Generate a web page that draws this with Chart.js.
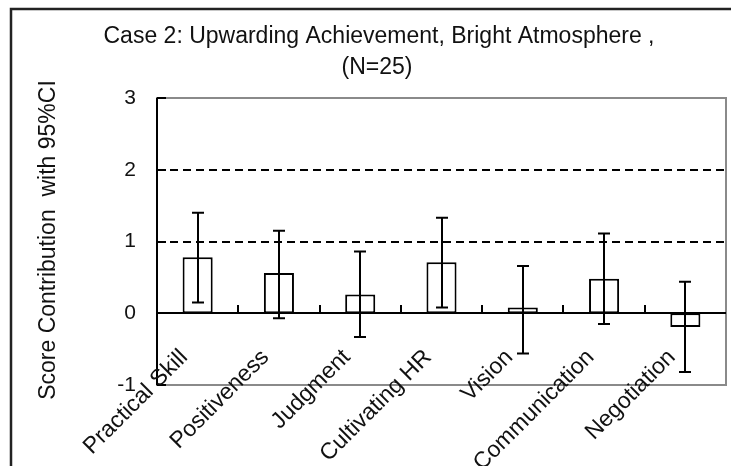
<!DOCTYPE html>
<html>
<head>
<meta charset="utf-8">
<script src="https://cdn.jsdelivr.net/npm/chart.js@4/dist/chart.umd.min.js"></script>
<style>
  html, body { margin: 0; padding: 0; background: #ffffff; }
  #wrap { width: 731px; height: 466px; position: relative; }
</style>
</head>
<body>
<div id="wrap"><canvas id="c" width="731" height="466"></canvas></div>
<script>
// Competency categories and their score contributions with 95% confidence limits
const categories = ['Practical Skill', 'Positiveness', 'Judgment', 'Cultivating HR', 'Vision', 'Communication', 'Negotiation'];
const means   = [0.78, 0.56, 0.26, 0.71, 0.08, 0.48, -0.19];
const ciLower = [0.15, -0.07, -0.33, 0.08, -0.56, -0.15, -0.82];
const ciUpper = [1.40, 1.15, 0.86, 1.33, 0.66, 1.11, 0.44];
const yTickValues = [-1, 0, 1, 2, 3];
const dashedLevels = [1, 2];
const titleLines = ['Case 2: Upwarding Achievement, Bright Atmosphere ,', '(N=25)'];
const yAxisTitle = 'Score Contribution  with 95%CI';

const FONT = '"Liberation Sans", Arial, sans-serif';
const INK = '#111111';

// Frame, titles, reference lines, error bars, slanted category labels
const decor = {
  id: 'decor',
  beforeDraw(chart) {
    const ctx = chart.ctx;
    ctx.save();
    // outer frame (extends past the canvas on the right and bottom)
    ctx.strokeStyle = '#222222';
    ctx.lineWidth = 2.5;
    ctx.beginPath();
    ctx.moveTo(11, 470);
    ctx.lineTo(11, 9);
    ctx.lineTo(740, 9);
    ctx.stroke();
    // chart title
    ctx.fillStyle = INK;
    ctx.font = '23px ' + FONT;
    ctx.textAlign = 'center';
    ctx.textBaseline = 'middle';
    ctx.fillText(titleLines[0], 379, 37);
    ctx.fillText(titleLines[1], 377, 68);
    // y axis title
    ctx.translate(49, 240);
    ctx.rotate(-Math.PI / 2);
    ctx.fillText(yAxisTitle, 0, 0);
    ctx.restore();
  },
  beforeDatasetsDraw(chart) {
    const ctx = chart.ctx;
    const a = chart.chartArea;
    const y = chart.scales.y;
    ctx.save();
    // plot frame
    ctx.strokeStyle = '#8a8a8a';
    ctx.lineWidth = 2;
    ctx.strokeRect(a.left, a.top, a.right - a.left, a.bottom - a.top);
    // dashed reference levels
    ctx.strokeStyle = '#000000';
    ctx.lineWidth = 2;
    ctx.setLineDash([8, 5]);
    dashedLevels.forEach(v => {
      const py = Math.round(y.getPixelForValue(v));
      ctx.beginPath();
      ctx.moveTo(a.left, py);
      ctx.lineTo(a.right, py);
      ctx.stroke();
    });
    ctx.restore();
  },
  afterDatasetsDraw(chart) {
    const ctx = chart.ctx;
    const a = chart.chartArea;
    const x = chart.scales.x;
    const y = chart.scales.y;
    const y0 = Math.round(y.getPixelForValue(0));
    ctx.save();
    ctx.strokeStyle = '#000000';
    ctx.lineWidth = 2;
    // zero line
    ctx.beginPath();
    ctx.moveTo(a.left, y0);
    ctx.lineTo(a.right, y0);
    ctx.stroke();
    // left axis
    ctx.beginPath();
    ctx.moveTo(a.left, a.top);
    ctx.lineTo(a.left, a.bottom);
    ctx.stroke();
    // inner y tick marks
    yTickValues.forEach(v => {
      const py = Math.round(y.getPixelForValue(v));
      ctx.beginPath();
      ctx.moveTo(a.left, py);
      ctx.lineTo(a.left + 9, py);
      ctx.stroke();
    });
    // category boundary ticks on the zero line
    const step = x.getPixelForValue(1) - x.getPixelForValue(0);
    for (let i = 1; i < categories.length; i++) {
      const px = Math.round(x.getPixelForValue(i) - step / 2);
      ctx.beginPath();
      ctx.moveTo(px, y0);
      ctx.lineTo(px, y0 - 8);
      ctx.stroke();
    }
    // 95% CI error bars
    const meta = chart.getDatasetMeta(0);
    meta.data.forEach((bar, i) => {
      const cx = Math.round(bar.x);
      const top = y.getPixelForValue(ciUpper[i]);
      const bot = y.getPixelForValue(ciLower[i]);
      ctx.beginPath();
      ctx.moveTo(cx, top);
      ctx.lineTo(cx, bot);
      ctx.moveTo(cx - 6, top);
      ctx.lineTo(cx + 6, top);
      ctx.moveTo(cx - 6, bot);
      ctx.lineTo(cx + 6, bot);
      ctx.stroke();
    });
    ctx.restore();
  },
  afterDraw(chart) {
    // slanted category labels, right end anchored just under each category centre
    const ctx = chart.ctx;
    const x = chart.scales.x;
    const y = chart.scales.y;
    const base = y.getPixelForValue(0) + 45;
    ctx.save();
    ctx.fillStyle = INK;
    ctx.font = '23px ' + FONT;
    ctx.textAlign = 'right';
    ctx.textBaseline = 'alphabetic';
    categories.forEach((label, i) => {
      ctx.save();
      ctx.translate(x.getPixelForValue(i) - 9, base);
      ctx.rotate(-Math.PI / 4);
      ctx.fillText(label, 0, 0);
      ctx.restore();
    });
    ctx.restore();
  }
};

new Chart(document.getElementById('c'), {
  type: 'bar',
  data: {
    labels: categories,
    datasets: [{
      data: means,
      backgroundColor: '#ffffff',
      borderColor: '#000000',
      borderWidth: 2,
      borderSkipped: false,
      barPercentage: 0.37,
      categoryPercentage: 1.0
    }]
  },
  options: {
    responsive: false,
    animation: false,
    devicePixelRatio: 1,
    layout: { padding: { top: 98, right: 5, left: 0, bottom: 0 } },
    plugins: {
      legend: { display: false },
      title: { display: false },
      tooltip: { enabled: false }
    },
    scales: {
      x: {
        grid: { display: false, drawTicks: false },
        border: { display: false },
        ticks: { display: false },
        afterFit(scale) { scale.height = 81; }
      },
      y: {
        min: -1,
        max: 3,
        grid: { display: false, drawTicks: false },
        border: { display: false },
        ticks: {
          stepSize: 1,
          padding: 21,
          color: INK,
          font: { family: FONT, size: 21 }
        },
        afterFit(scale) { scale.width = 157; }
      }
    }
  },
  plugins: [decor]
});
</script>
</body>
</html>
